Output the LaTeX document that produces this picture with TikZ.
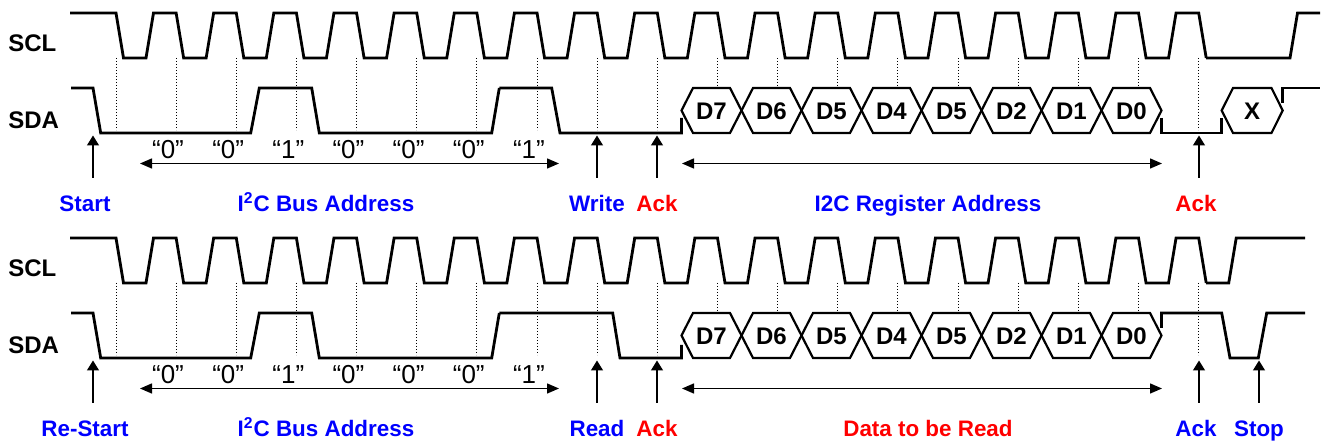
\documentclass[tikz,border=0pt]{standalone}
\usepackage{fontspec}
\setmainfont{Liberation Sans}
\usetikzlibrary{arrows.meta,positioning}

\begin{document}
\begin{tikzpicture}[x=0.5pt,y=-0.5pt,
    wave/.style={line width=1.4pt,line join=miter},
    hexa/.style={line width=1.1pt},
    guide/.style={line width=0.5pt,dash pattern=on 0.6pt off 0.9pt},
    ptr/.style={line width=0.7pt,-{Triangle[width=6pt,length=5pt]}},
    span/.style={line width=0.7pt,{Triangle[width=5pt,length=6pt]}-{Triangle[width=5pt,length=6pt]}},
    sig/.style={font=\fontsize{12}{14}\selectfont\bfseries,anchor=base west,inner sep=0pt},
    bit/.style={font=\fontsize{13}{15}\selectfont,anchor=base,inner sep=0pt},
    byte/.style={font=\fontsize{12}{14}\selectfont\bfseries,inner sep=0pt},
    lbl/.style={font=\fontsize{11.2}{13}\selectfont\bfseries,anchor=base,inner sep=0pt}]
  \useasboundingbox (0,0) rectangle (1323,442);

  % parts that both frames share
  \foreach \p/\dy in {a/0,b/225}{
    \begin{scope}[shift={(0,\dy)}]
      \node[sig] (scl\p) at (8,51.7) {SCL};
      \node[sig] (sda\p) at (8,128.3) {SDA};
      % clock
      \draw[wave] (70,13) foreach \k in {0,...,17}{
          -- ({116+60.15*\k},13) -- ({123.5+60.15*\k},58)
          -- ({146+60.15*\k},58) -- ({153.5+60.15*\k},13)}
        -- (1198.7,13) -- (1206.2,58) coordinate (sclend\p);
      % sampling points
      \foreach \k in {0,...,9,18}
        \draw[guide] ({116+60.15*\k},58) -- ({116+60.15*\k},130);
      \foreach \k in {10,...,17}
        \draw[guide] ({116+60.15*\k},58) -- ({116+60.15*\k},88);
      % address bits
      \draw[wave] (71,88) -- (93,88) -- (100.7,133) -- (250.7,133) -- (259.3,88)
        -- (311.7,88) -- (319.3,133) -- (491.7,133) -- (499.3,88) coordinate (rwup\p);
      \foreach \b [count=\i from 0] in {0,0,1,0,0,0,1}
        \node[bit] (bit\i\p) at ({168+60.15*\i},158.5) {“\b”};
      \coordinate (addrL\p) at (140,163.5);
      \coordinate (addrR\p) at (559,163.5);
      \draw[span] (addrL\p) -- (addrR\p);
      % data byte
      \foreach \lab [count=\i from 0] in {D7,D6,D5,D4,D5,D2,D1,D0}{
        \draw[hexa] ({681.5+60*\i},110.5) -- ({693+60*\i},88) -- ({730+60*\i},88)
          -- ({741.5+60*\i},110.5) -- ({730+60*\i},133) -- ({693+60*\i},133) -- cycle;
        \node[byte] (byte\i\p) at ({711.5+60*\i},111) {\lab};
      }
      \coordinate (dataL\p) at (682,163.5);
      \coordinate (dataR\p) at (1162,163.5);
      \draw[span] (dataL\p) -- (dataR\p);
      % pointers
      \foreach \n/\x in {st/93,rw/597,ack/657,ackk/1199}{
        \coordinate (\n foot\p) at (\x,178);
        \coordinate (\n tip\p) at (\x,135.5);
        \draw[ptr] (\n foot\p) -- (\n tip\p);
      }
    \end{scope}
  }

  % write frame
  \draw[wave] (sclenda) -- (1290,58) -- (1297.5,13) -- (1320,13);
  \draw[wave] (rwupa) -- (551.7,88) -- (560,133) -- (681.5,133) -- (681.5,118);
  \draw[wave] (1161.5,118) -- (1161.5,133) -- (1221.7,133) -- (1221.7,118);
  \draw[hexa] (1221.7,110.5) -- (1233,88) -- (1271.5,88) -- (1282.7,110.5)
    -- (1271.5,133) -- (1233,133) -- cycle;
  \node[byte] (xbyte) at (1252.2,111) {X};
  \draw[wave] (1282.7,103) -- (1282.7,88) -- (1320,88);
  \node[lbl,blue] (start) at (85,211.5) {Start};
  \node[lbl,blue] (busa) at (326,211.5) {I\textsuperscript{2}C Bus Address};
  \node[lbl,blue] (write) at (597,211.5) {Write};
  \node[lbl,red] (acka) at (657,211.5) {Ack};
  \node[lbl,blue] (reg) at (928,211.5) {I2C Register Address};
  \node[lbl,red] (ackb) at (1196,211.5) {Ack};

  % read frame
  \draw[wave] (sclendb) -- (1228.7,283) -- (1236.2,238) -- (1305,238);
  \draw[wave] (rwupb) -- (612.7,313) -- (620,358) -- (681.5,358) -- (681.5,345);
  \draw[wave] (1161.5,328) -- (1161.5,313) -- (1221.7,313) -- (1230,358)
    -- (1258.3,358) -- (1266.7,313) -- (1305,313);
  \coordinate (stopfoot) at (1259,403);
  \coordinate (stoptip) at (1259,360.5);
  \draw[ptr] (stopfoot) -- (stoptip);
  \node[lbl,blue] (restart) at (85,436.5) {Re-Start};
  \node[lbl,blue] (busb) at (326,436.5) {I\textsuperscript{2}C Bus Address};
  \node[lbl,blue] (read) at (597,436.5) {Read};
  \node[lbl,red] (ackc) at (657,436.5) {Ack};
  \node[lbl,red] (data) at (928,436.5) {Data to be Read};
  \node[lbl,blue] (ackd) at (1196,436.5) {Ack};
  \node[lbl,blue] (stop) at (1259,436.5) {Stop};
\end{tikzpicture}
\end{document}
